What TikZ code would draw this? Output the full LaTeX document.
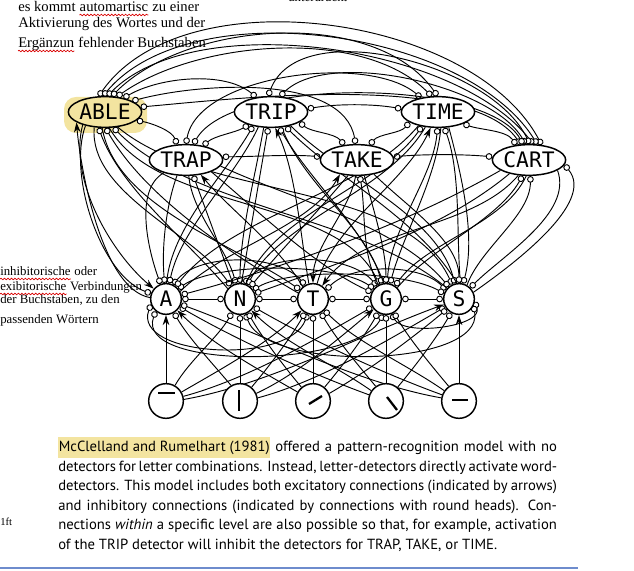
\documentclass[tikz,border=0pt]{standalone}
\usepackage{fontspec}
\setmainfont{Liberation Serif}
\setmonofont{DejaVu Sans Mono}
\newfontfamily\captionfont{PT Sans}
\usetikzlibrary{arrows.meta,positioning,shapes.geometric,calc,backgrounds,decorations.pathmorphing}

\definecolor{marker}{RGB}{243,228,160}
\definecolor{ruleblue}{RGB}{110,140,205}

\newcommand\marked[1]{{\setlength{\fboxsep}{0.4pt}\colorbox{marker}{\strut #1}}}

\begin{document}
\begin{tikzpicture}[x=0.75pt, y=0.75pt,
  font=\footnotesize,
  word/.style={ellipse, draw, line width=1.1pt, fill=white, minimum width=55pt, minimum height=23pt,
               inner sep=0pt, font=\ttfamily\fontsize{16}{16}\selectfont},
  letter/.style={circle, draw, line width=1.1pt, fill=white, minimum size=23pt, inner sep=0pt,
                 font=\ttfamily\fontsize{16}{16}\selectfont},
  feat/.style={circle, draw, line width=1.1pt, fill=white, minimum size=26pt, inner sep=0pt},
  stroke/.style={line width=1.7pt},
  exc/.style={-{Stealth[length=7.5pt,width=5pt]}, line width=0.7pt},
  inh/.style={-{Circle[open,length=5pt,fill=white]}, line width=0.7pt},
  inhb/.style={{Circle[open,length=5pt,fill=white]}-{Circle[open,length=5pt,fill=white]}, line width=0.7pt},
  note/.style={anchor=base west, inner sep=0pt, font=\fontsize{11}{12}\selectfont},
  side/.style={anchor=base west, inner sep=0pt, font=\fontsize{9.6}{11}\selectfont},
  typo/.style={red!85!black, line width=0.5pt, decorate,
               decoration={snake, amplitude=0.6pt, segment length=2.6pt}},
  para/.style={anchor=north west, inner sep=0pt, align=left,
               font=\captionfont\fontsize{11}{14.7}\selectfont},
  looseness=0.8
]
\useasboundingbox (0,0) rectangle (634,570);

\node[word, fill=marker] (able) at (105,458) {ABLE};
\node[word] (trip) at (271,458) {TRIP};
\node[word] (time) at (438,458) {TIME};
\node[word] (trap) at (186,410) {TRAP};
\node[word] (take) at (357,410) {TAKE};
\node[word] (cart) at (529,410) {CART};

\node[letter] (la) at (166,271) {A};
\node[letter] (ln) at (240,271) {N};
\node[letter] (lt) at (313,271) {T};
\node[letter] (lg) at (386,271) {G};
\node[letter] (ls) at (459,271) {S};

\node[feat] (ftop)   at (166,169) {};
\node[feat] (fvert)  at (240,169) {};
\node[feat] (fslash) at (313,169) {};
\node[feat] (fback)  at (386,169) {};
\node[feat] (fmid)   at (459,169) {};

\draw[stroke] ($(ftop)+(-8,8)$) -- ($(ftop)+(9,8)$);
\draw[stroke] ($(fvert)+(-1,11)$) -- ($(fvert)+(-1,-10)$);
\draw[stroke] ($(fslash)+(-4,-3)$) -- ($(fslash)+(9,5)$);
\draw[stroke] ($(fback)+(1,4)$) -- ($(fback)+(11,-9)$);
\draw[stroke] ($(fmid)+(-7,1)$) -- ($(fmid)+(9,1)$);

\begin{scope}[on background layer]
\fill[marker, rounded corners=9pt] (64,437) rectangle (147,473);

\draw[inhb] (able.112) to[out=55,in=118,looseness=0.85] (cart.50);
\draw[inhb] (able.97) to[out=50,in=122,looseness=0.8] (cart.62);
\draw[inhb] (able.82) to[out=45,in=128,looseness=0.75] (cart.75);
\draw[inhb] (able.67) to[out=45,in=125,looseness=0.85] (time.92);
\draw[inhb] (able.52) to[out=35,in=135,looseness=0.8] (time.112);
\draw[inhb] (able.37) to[out=30,in=140] (trip.135);
\draw[inhb] (able.22) to[out=15,in=100] (take.95);
\draw[inhb] (able.8) to[out=5,in=125,looseness=0.6] (cart.118);
\draw[inhb] (able.-15) to[out=-10,in=110] (trap.120);
\draw[inhb] (trip.100) to[out=70,in=115,looseness=0.85] (cart.88);
\draw[inhb] (trip.60) to[out=45,in=120,looseness=0.7] (cart.102);
\draw[inhb] (trip.5) to[out=10,in=170] (time.175);
\draw[inhb] (trip.-150) to[out=-150,in=40] (trap.40);
\draw[inhb] (trip.-20) to[out=-40,in=130] (take.130);
\draw[inhb] (trap.90) to[out=80,in=140,looseness=0.75] (time.140);
\draw[inhb] (trap.65) to[out=60,in=120,looseness=0.6] (cart.110);
\draw[inhb] (trap.5) to[out=0,in=175] (take.175);
\draw[inhb] (time.-160) to[out=-130,in=50] (take.50);
\draw[inhb] (time.-25) to[out=-20,in=125] (cart.130);
\draw[inhb] (take.5) to[out=5,in=175] (cart.175);

\draw[inhb] (la) -- (ln);
\draw[inhb] (ln) -- (lt);
\draw[inhb] (lt) -- (lg);
\draw[inhb] (lg) -- (ls);
\draw[inhb] (la.64) to[out=50,in=130] (lt.120);
\draw[inhb] (ln.75) to[out=50,in=130] (lg.125);
\draw[inhb] (lt.35) to[out=45,in=135] (ls.145);
\draw[inhb] (la.40) to[out=35,in=145,looseness=0.6] (lg.140);
\draw[inhb] (ln.35) to[out=30,in=150,looseness=0.6] (ls.160);
\draw[inhb] (la.200) to[out=-110,in=-110,looseness=0.9] (lt.-110);
\draw[inhb] (la.-130) to[out=-110,in=-120,looseness=0.7] (lg.-100);
\draw[inhb] (ls.-10) to[out=-70,in=-60] (lg.-70);
\draw[inhb] (ls.-25) to[out=-80,in=-70,looseness=0.7] (ln.-70);

\draw[exc] (ftop) -- (la);
\draw[inh] (ftop.60) to[out=60,in=-120] (ln.-120);
\draw[exc] (ftop.30) to[out=30,in=-135] (lt.-135);
\draw[inh] (ftop.15) to[out=15,in=-150] (lg.-150);
\draw[exc] (ftop.5) to[out=10,in=-160] (ls.-160);
\draw[inh] (fvert.120) to[out=130,in=-60] (la.-60);
\draw[inh] (fvert) -- (ln);
\draw[inh] (fvert.50) to[out=50,in=-120] (lt.-120);
\draw[exc] (fvert.25) to[out=25,in=-140] (lg.-140);
\draw[inh] (fvert.10) to[out=15,in=-150] (ls.-150);
\draw[exc] (fslash.150) to[out=150,in=-45] (la.-45);
\draw[inh] (fslash.130) to[out=130,in=-60] (ln.-60);
\draw[inh] (fslash) -- (lt);
\draw[inh] (fslash.50) to[out=50,in=-120] (lg.-120);
\draw[inh] (fslash.25) to[out=30,in=-140] (ls.-140);
\draw[inh] (fback.160) to[out=160,in=-30] (la.-30);
\draw[exc] (fback.145) to[out=145,in=-45] (ln.-45);
\draw[inh] (fback.125) to[out=130,in=-60] (lt.-60);
\draw[inh] (fback) -- (lg);
\draw[inh] (fback.50) to[out=50,in=-120] (ls.-120);
\draw[inh] (fmid.170) to[out=170,in=-20] (la.-20);
\draw[inh] (fmid.160) to[out=160,in=-30] (ln.-30);
\draw[inh] (fmid.145) to[out=145,in=-45] (lt.-45);
\draw[inh] (fmid.125) to[out=130,in=-60] (lg.-60);
\draw[exc] (fmid) -- (ls);

\draw[exc] (la.175) to[out=170,in=-85,looseness=0.65] (able.200);
\draw[exc] (able.-150) to[out=-105,in=140] (la.140);
\draw[inh] (able.215) to[out=-110,in=160,looseness=0.75] (la.160);
\draw[inh] (able.-125) to[out=-95,in=125] (ln.125);
\draw[inh] (able.-100) to[out=-80,in=145] (lt.145);
\draw[inh] (able.-75) to[out=-60,in=115] (lg.115);
\draw[inh] (able.-50) to[out=-40,in=115] (ls.115);
\draw[inh] (ln.140) to[out=130,in=-70] (able.-112);
\draw[inh] (lt.158) to[out=150,in=-60] (able.-88);
\draw[inh] (ls.138) to[out=140,in=-45] (able.-62);

\draw[exc] (lt.105) to[out=100,in=-65] (trip.-75);
\draw[inh] (trip.-130) to[out=-115,in=78] (la.78);
\draw[inh] (trip.-115) to[out=-100,in=90] (ln.90);
\draw[inh] (trip.-55) to[out=-70,in=105] (lg.105);
\draw[inh] (trip.-35) to[out=-45,in=105] (ls.105);
\draw[inh] (la.88) to[out=85,in=-120] (trip.-142);
\draw[inh] (ln.85) to[out=80,in=-100] (trip.-100);
\draw[inh] (lg.98) to[out=110,in=-60] (trip.-62);
\draw[inh] (ls.98) to[out=120,in=-45] (trip.-45);

\draw[exc] (lt.75) to[out=75,in=-115] (time.-115);
\draw[inh] (time.-145) to[out=-130,in=52] (la.52);
\draw[inh] (time.-130) to[out=-120,in=62] (ln.62);
\draw[inh] (time.-80) to[out=-95,in=75] (lg.75);
\draw[inh] (time.-55) to[out=-75,in=75] (ls.75);
\draw[inh] (ln.68) to[out=70,in=-125] (time.-138);
\draw[inh] (lg.85) to[out=90,in=-95] (time.-92);
\draw[inh] (ls.85) to[out=95,in=-70] (time.-68);

\draw[exc] (lt.130) to[out=120,in=-50] (trap.-45);
\draw[inh] (trap.-120) to[out=-110,in=95] (la.95);
\draw[inh] (trap.-150) to[out=-150,in=110] (la.110);
\draw[inh] (trap.-80) to[out=-85,in=105] (ln.105);
\draw[inh] (trap.-25) to[out=-40,in=155] (lg.155);
\draw[inh] (trap.-10) to[out=-25,in=130] (ls.130);
\draw[inh] (ln.115) to[out=110,in=-70] (trap.-65);

\draw[exc] (la.28) to[out=45,in=-120] (take.-140);
\draw[exc] (take.-95) to[out=-100,in=90] (lt.90);
\draw[inh] (take.-120) to[out=-130,in=50] (ln.50);
\draw[inh] (take.-65) to[out=-75,in=90] (lg.90);
\draw[inh] (take.-40) to[out=-45,in=90] (ls.90);
\draw[inh] (lg.118) to[out=120,in=-80] (take.-80);

\draw[inh] (cart.-160) to[out=-150,in=15] (la.15);
\draw[inh] (cart.-145) to[out=-140,in=20] (ln.20);
\draw[exc] (cart.-125) to[out=-130,in=55] (lt.55);
\draw[inh] (cart.-100) to[out=-115,in=55] (lg.55);
\draw[inh] (cart.-20) to[out=-70,in=45] (ls.45);
\draw[inh] (lg.45) to[out=50,in=-120] (cart.-112);
\draw[inh] (ls.60) to[out=70,in=-90] (cart.-85);
\draw[inh] (ls.25) to[out=35,in=-50] (cart.-8);
\end{scope}

\node[note] (n1) at (18,558) {es kommt};
\node[note] (n1b) at ($(n1.base east)+(3.5,0)$) {automartisc};
\node[note] (n1c) at (n1b.base east) {\ zu einer};
\node[note] (n2) at (18,542) {Aktivierung des Wortes und der};
\node[note] (n3) at (18,522) {Ergänzun};
\node[note] (n3b) at (n3.base east) {\ fehlender Buchstaben};
\node[side] (n4) at (288,568) {unterdrückt};

\node[side] (m1) at (0,294) {inhibitorische};
\node[side] (m1b) at (m1.base east) {\ oder};
\node[side] (m2) at (0,279) {exibitorische};
\node[side] (m2b) at (m2.base east) {\ Verbindungen};
\node[side] (m3) at (0,266) {der Buchstaben, zu den};
\node[side] (m4) at (0,246) {passenden Wörtern};
\node[side, font=\fontsize{8}{9}\selectfont] (margin) at (0,44) {1ft};

\draw[typo] ($(n1b.base west)+(0,-3)$) -- ($(n1b.base east)+(0,-3)$);
\draw[typo] ($(n3.base west)+(0,-3)$) -- ($(n3.base east)+(0,-3)$);
\draw[typo] ($(m1.base west)+(0,-3)$) -- ($(m1.base east)+(0,-3)$);
\draw[typo] ($(m2.base west)+(0,-3)$) -- ($(m2.base east)+(0,-3)$);

\node[para] (caption) at (58,133) {%
\makebox[374pt][s]{\marked{McClelland and Rumelhart (1981)} offered a pattern-recognition model with no}\\
\makebox[374pt][s]{detectors for letter combinations. Instead, letter-detectors directly activate word-}\\
\makebox[374pt][s]{detectors. This model includes both excitatory connections (indicated by arrows)}\\
\makebox[374pt][s]{and inhibitory connections (indicated by connections with round heads). Con-}\\
\makebox[374pt][s]{nections \emph{within} a specific level are also possible so that, for example, activation}\\
of the TRIP detector will inhibit the detectors for TRAP, TAKE, or TIME.};

\draw[ruleblue, line width=1.2pt] (0,2) -- (578,2);
\end{tikzpicture}
\end{document}
